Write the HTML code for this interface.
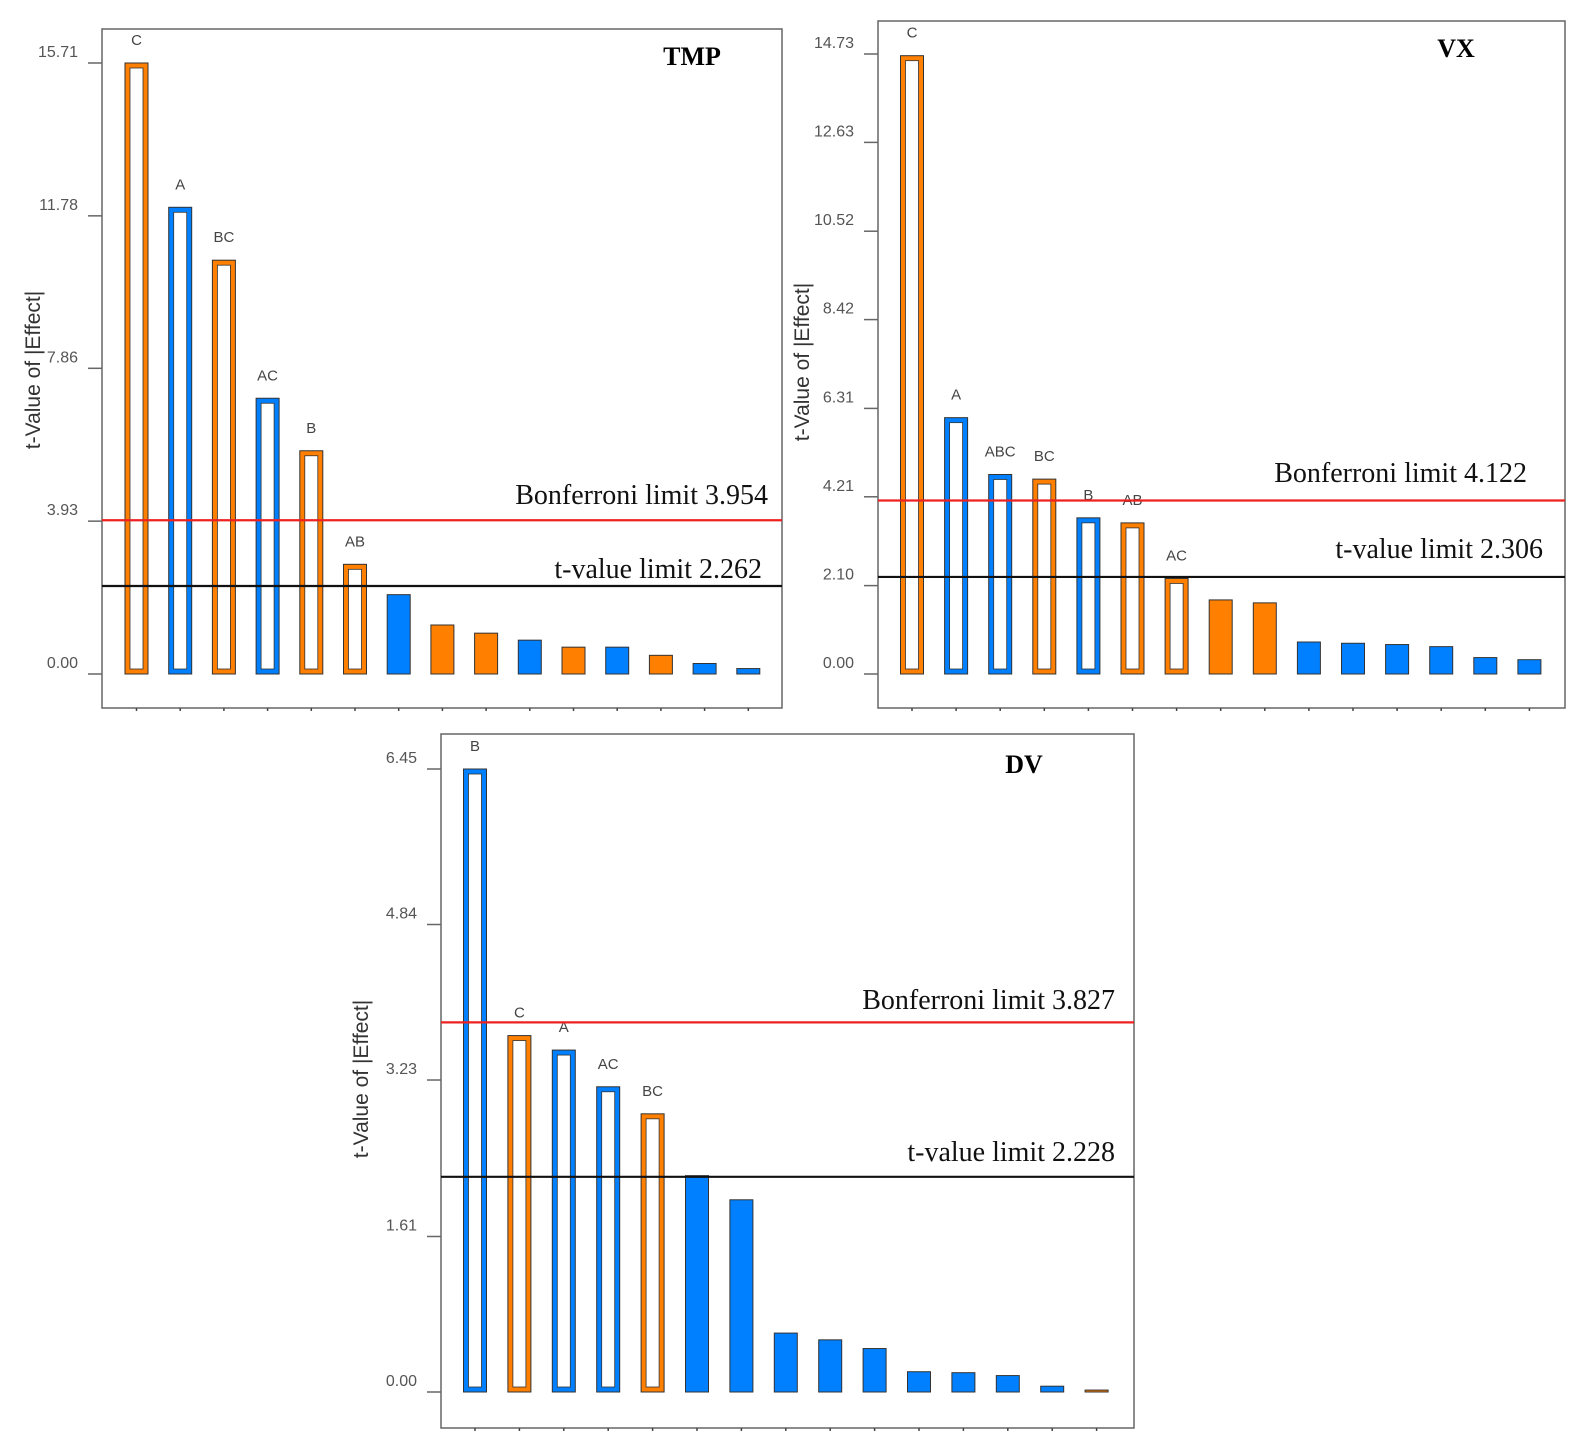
<!DOCTYPE html>
<html><head><meta charset="utf-8"><style>
body{margin:0;background:#fff;}
svg{display:block;}
.tick{font-family:"Liberation Sans",sans-serif;font-size:16px;fill:#555;}
.lim{font-family:"Liberation Serif",serif;font-size:28px;fill:#111;}
.ttl{font-family:"Liberation Serif",serif;font-size:26px;font-weight:bold;fill:#000;}
.ax{font-family:"Liberation Sans",sans-serif;font-size:21px;fill:#333;}
.bl{font-family:"Liberation Sans",sans-serif;font-size:15px;fill:#444;}
</style></head><body>
<svg id="root" width="1588" height="1447" viewBox="0 0 1588 1447"></svg>
<script>
// TMP data
const tmpValues=[15.71,12.0,10.64,7.09,5.74,2.82,2.04,1.26,1.05,0.87,0.69,0.69,0.48,0.27,0.14];
const tmpColors=['O','B','O','B','O','O','B','O','O','B','O','B','O','B','B'];
const tmpLabels=['C','A','BC','AC','B','AB','','','','','','','','',''];
const tmpTicks=[0,3.93,7.86,11.78,15.71];
const tmpLimits=[3.954,2.262];
// VX data
const vxValues=[14.69,6.09,4.74,4.63,3.71,3.59,2.27,1.76,1.69,0.76,0.73,0.70,0.65,0.39,0.34];
const vxColors=['O','B','B','O','B','O','O','O','O','B','B','B','B','B','B'];
const vxLabels=['C','A','ABC','BC','B','AB','AC','','','','','','','',''];
const vxTicks=[0,2.10,4.21,6.31,8.42,10.52,12.63,14.73];
const vxLimits=[4.122,2.306];
// DV data
const dvValues=[6.45,3.69,3.54,3.16,2.88,2.24,1.99,0.61,0.54,0.45,0.21,0.20,0.17,0.06,0.02];
const dvColors=['B','O','B','B','O','B','B','B','B','B','B','B','B','B','O'];
const dvLabels=['B','C','A','AC','BC','','','','','','','','','',''];
const dvTicks=[0,1.61,3.23,4.84,6.45];
const dvLimits=[3.827,2.228];

const NS='http://www.w3.org/2000/svg';
const root=document.getElementById('root');
function mk(tag,attrs,parent,txt){const e=document.createElementNS(NS,tag);for(const k in attrs)e.setAttribute(k,attrs[k]);if(txt!==undefined)e.textContent=txt;parent.appendChild(e);return e;}
const COL={O:'#ff7f00',B:'#0080ff'};

function panel(p){
  const g=mk('g',{},root);
  
  
  const yS=v=>p.y0-(v/p.vmax)*(p.y0-p.yTop);
  const xS=i=>p.x0+i*p.step;
  const fr=mk('rect',{x:p.L,y:p.T,width:p.R-p.L,height:p.B-p.T,fill:'none',stroke:'#666','stroke-width':1.5},g);
  
  
  p.ticks.forEach(t=>{
    const y=yS(t);
    mk('line',{x1:p.L-14,x2:p.L,y1:y,y2:y,stroke:'#666','stroke-width':1.5},g);
    const tl=mk('text',{x:p.L-24,y:y-6,'text-anchor':'end',class:'tick'},g,t.toFixed(2));
    
    
  });
  p.values.forEach((v,i)=>{
    const cx=xS(i);
    mk('line',{x1:cx,x2:cx,y1:p.B,y2:p.B+3,stroke:'#444','stroke-width':1.5},g);
  });
  p.values.forEach((v,i)=>{
    const cx=xS(i),w=23,y=yS(v),h=p.y0-y;
    const hollow=p.labels[i]!=='';
    const b=mk('rect',{x:cx-w/2,y:y,width:w,height:Math.max(h,1.5),fill:COL[p.colors[i]],stroke:'#333','stroke-width':1},g);
    
    
    if(hollow&&h>10){
      mk('rect',{x:cx-w/2+5,y:y+5,width:w-10,height:h-10,fill:'#fff',stroke:'#333','stroke-width':0.8},g);
    }
    if(hollow){
      const l=mk('text',{x:cx,y:y-18,'text-anchor':'middle',class:'bl'},g,p.labels[i]);
      
      
    }
  });
  const yb=yS(p.limits[0]),yt=yS(p.limits[1]);
  const rl=mk('line',{x1:p.L,x2:p.R,y1:yb,y2:yb,stroke:'#ee2020','stroke-width':2.2},g);
  
  
  const kl=mk('line',{x1:p.L,x2:p.R,y1:yt,y2:yt,stroke:'#111','stroke-width':2.2},g);
  
  
  const bt=mk('text',{x:p.bx,y:p.by,'text-anchor':'end',class:'lim'},g,'Bonferroni limit '+p.limits[0].toFixed(3));
  
  
  const tt=mk('text',{x:p.tx,y:p.ty,'text-anchor':'end',class:'lim'},g,'t-value limit '+p.limits[1].toFixed(3));
  
  
  const ti=mk('text',{x:p.titleX,y:p.titleY,'text-anchor':'middle',class:'ttl'},g,p.title);
  
  
  const at=mk('text',{x:p.axX,y:p.axY,'text-anchor':'middle',class:'ax',transform:'rotate(-90 '+p.axX+' '+p.axY+')'},g,'t-Value of |Effect|');
  
  
}

panel({name:'tmp',title:'TMP',values:tmpValues,colors:tmpColors,labels:tmpLabels,ticks:tmpTicks,limits:tmpLimits,
  L:102,R:782,T:29,B:708,y0:674,yTop:63,vmax:15.71,x0:136.5,step:43.7,
  bx:768,by:504,tx:762,ty:578,titleX:692,titleY:65,axX:40,axY:370});
panel({name:'vx',title:'VX',values:vxValues,colors:vxColors,labels:vxLabels,ticks:vxTicks,limits:vxLimits,
  L:878,R:1565,T:21,B:708,y0:674,yTop:54,vmax:14.73,x0:912,step:44.1,
  bx:1527,by:482,tx:1543,ty:558,titleX:1456,titleY:57,axX:809,axY:362});
panel({name:'dv',title:'DV',values:dvValues,colors:dvColors,labels:dvLabels,ticks:dvTicks,limits:dvLimits,
  L:441,R:1134,T:734,B:1428,y0:1392,yTop:769,vmax:6.45,x0:475,step:44.4,
  bx:1115,by:1009,tx:1115,ty:1161,titleX:1024,titleY:773,axX:368,axY:1079});
</script>
</body></html>
